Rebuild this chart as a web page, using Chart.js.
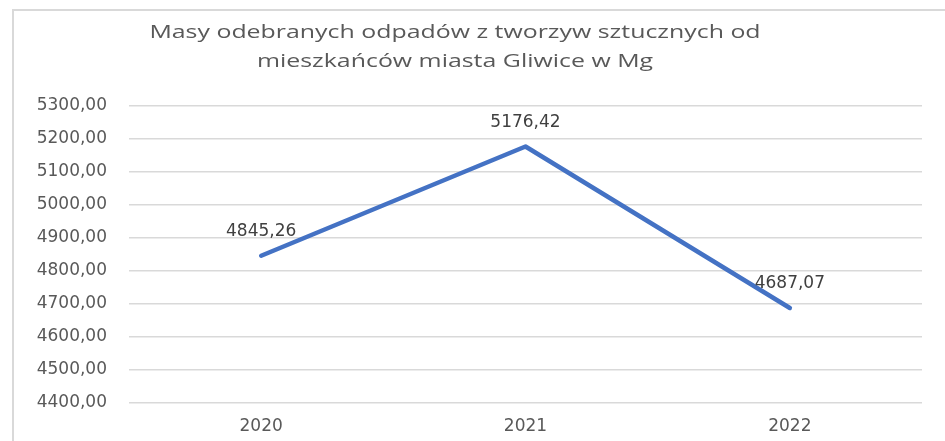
<!DOCTYPE html>
<html lang="pl">
<head>
    <meta charset="UTF-8">
    <title>Masy odebranych odpadów</title>
    <script src="https://cdn.jsdelivr.net/npm/chart.js"></script>
    <style>
        html, body { margin: 0; padding: 0; background: #fff; }
        #wrap { position: relative; width: 945px; height: 441px; overflow: hidden; }
        #frame { position: absolute; left: 12px; top: 9px; width: 960px; height: 460px;
                 border-left: 2px solid #d9d9d9; border-top: 2px solid #d9d9d9; }
        canvas { position: absolute; left: 0; top: 0; }
    </style>
</head>
<body>
<div id="wrap">
    <div id="frame"></div>
    <canvas id="chart" width="945" height="441"></canvas>
</div>
<script>
    // data
    const years = ['2020', '2021', '2022'];
    const masses = [4845.26, 5176.42, 4687.07];
    const titleLines = ['Masy odebranych odpadów z tworzyw sztucznych od', 'mieszkańców miasta Gliwice w Mg'];
    const yMin = 4400, yMax = 5300, yStep = 100;

    const fmt = v => Number(v).toFixed(2).replace('.', ',');

    // value labels above each point
    const valueLabels = {
        id: 'valueLabels',
        afterDatasetsDraw(chart) {
            const ctx = chart.ctx;
            const meta = chart.getDatasetMeta(0);
            ctx.save();
            ctx.font = '17px "DejaVu Sans"';
            ctx.fillStyle = '#404040';
            ctx.textAlign = 'center';
            ctx.textBaseline = 'middle';
            meta.data.forEach((pt, i) => {
                ctx.fillText(fmt(masses[i]), pt.x, pt.y - 24);
            });
            ctx.restore();
        }
    };

    // the title in the original is drawn wide, so stretch it a bit
    const wideTitle = {
        id: 'wideTitle',
        afterDraw(chart) {
            const ctx = chart.ctx;
            ctx.save();
            ctx.font = '19px "Open Sans"';
            ctx.fillStyle = '#595959';
            ctx.textAlign = 'center';
            ctx.textBaseline = 'middle';
            ctx.translate(455, 0);
            ctx.scale(1.31, 1);
            titleLines.forEach((line, i) => ctx.fillText(line, 0, 33 + i * 29));
            ctx.restore();
        }
    };

    new Chart(document.getElementById('chart'), {
        type: 'line',
        data: {
            labels: years,
            datasets: [{
                data: masses,
                borderColor: '#4472C4',
                borderWidth: 4.5,
                borderCapStyle: 'round',
                borderJoinStyle: 'round',
                pointRadius: 0,
                tension: 0,
                fill: false
            }]
        },
        options: {
            responsive: false,
            animation: false,
            layout: { padding: { left: 0, right: 23, top: 105.7, bottom: 0 } },
            plugins: {
                legend: { display: false },
                tooltip: { enabled: false },
                title: { display: false }
            },
            scales: {
                x: {
                    offset: true,
                    grid: { display: false },
                    border: { display: false },
                    ticks: { color: '#595959', font: { family: '"DejaVu Sans"', size: 17 }, padding: 6 },
                    afterFit(s) { s.height = 38.3; }
                },
                y: {
                    min: yMin,
                    max: yMax,
                    grid: { color: '#d9d9d9', lineWidth: 1.5, drawTicks: false },
                    border: { display: false },
                    ticks: {
                        stepSize: yStep,
                        color: '#595959',
                        font: { family: '"DejaVu Sans"', size: 17 },
                        padding: 22,
                        callback: v => fmt(v)
                    },
                    afterFit(s) { s.width = 129; }
                }
            }
        },
        plugins: [valueLabels, wideTitle]
    });
</script>
</body>
</html>
